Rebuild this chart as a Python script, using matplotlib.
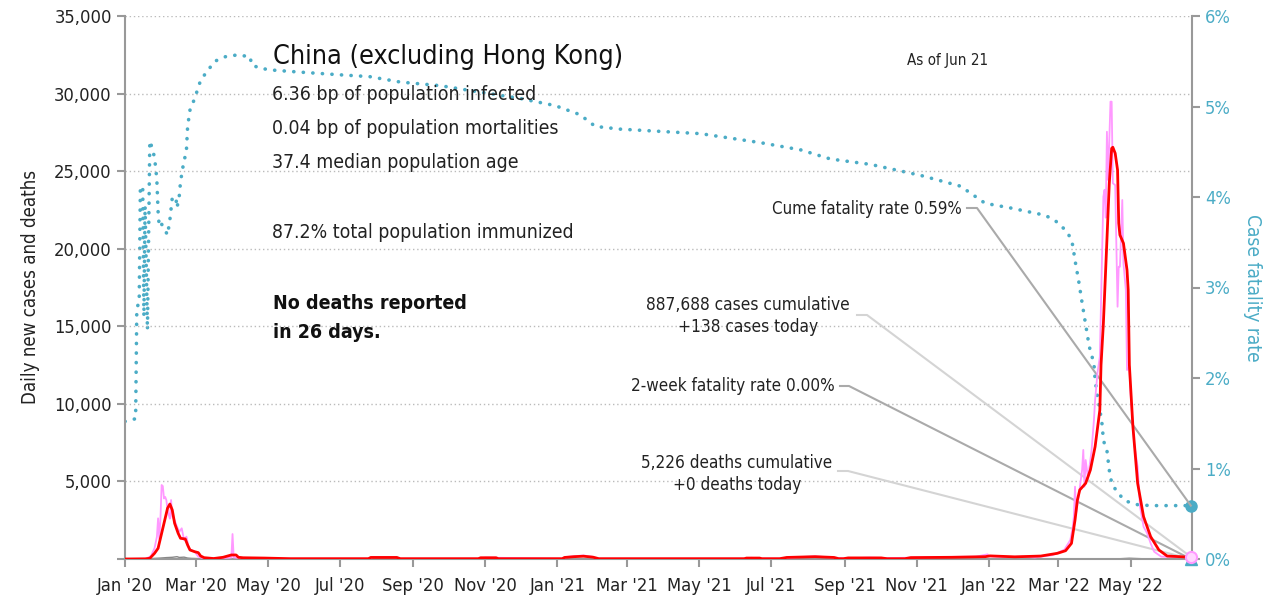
import datetime as dt
import matplotlib
matplotlib.use("Agg")
import matplotlib.pyplot as plt
import matplotlib.dates as mdates
from matplotlib import font_manager as fm
from matplotlib.ticker import FuncFormatter, MultipleLocator

# ---------------- data ----------------
START = dt.date(2020, 1, 1)

# daily new cases (pink), day offsets from 2020-01-01
cases_day = [0, 18, 22, 25, 27, 28, 29, 30, 31, 32, 33, 34, 35, 36, 37, 38, 39, 40, 42, 44,
             46, 48, 50, 52, 54, 56, 59, 62, 65, 70, 80, 88, 90, 91, 92, 95, 100, 110, 140,
             206, 210, 230, 233, 300, 305, 314, 370, 375, 382, 388, 395, 401, 525, 530, 538,
             556, 570, 584, 600, 610, 630, 645, 662, 690, 720, 730, 731, 745, 760,
             770, 785, 795, 800, 802, 803, 804, 805, 807, 810, 811, 812, 813, 815, 818, 820,
             821, 823, 825, 827, 828, 829, 830, 831, 832, 834, 835, 836, 838, 840, 841, 842,
             844, 845, 847, 848, 850, 851, 854, 857, 859, 862, 865, 868, 871, 877, 890, 902]
cases_val = [0, 20, 200, 700, 1440, 2620, 1300, 2600, 4770, 4700, 3900, 4000, 3800, 3160, 2840,
             2600, 3800, 2730, 2500, 2080, 1760, 1980, 1225, 1440, 690, 580, 470, 150, 80, 30,
             60, 80, 100, 1610, 100, 80, 50, 40, 20,
             20, 120, 110, 20, 20, 90, 80, 20, 140, 190, 230, 150, 20, 20, 80, 30,
             30, 120, 170, 90, 40, 90, 60, 80, 130, 150, 300, 180, 120, 150,
             100, 250, 600, 1225, 2000, 2730, 4660, 3000, 4000, 5740, 7030, 4660, 6380, 5200,
             7000, 8960, 10250, 12000, 13040, 20000, 23355, 23800, 22000, 27540, 24430, 29480,
             29480, 24220, 24100, 16260, 18840, 18840, 23140, 19060, 17340, 12180, 12400, 10680,
             7460, 5950, 3370, 2080, 1660, 1010, 470, 150, 120, 138]

# 7-day average of cases (red)
avg_day = [0, 17, 21, 25, 28, 30, 33, 36, 38, 40, 42, 45, 47, 51, 53, 55, 59, 62, 64, 67, 75,
           83, 90, 94, 96, 100, 118, 140, 206, 208, 230, 233, 299, 301, 314, 316, 370, 372,
           380, 388, 396, 401, 524, 526, 537, 539, 554, 560, 584, 600, 604, 608, 612, 640, 645,
           660, 665, 700, 728, 732, 753, 775, 789, 796, 801, 804, 806, 808, 813, 817, 821,
           825, 826, 828, 831, 833, 835, 836, 838, 840, 841, 842, 845, 848, 849, 850.5, 853,
           857, 862, 868, 875, 882, 893, 902]
avg_val = [0, 10, 45, 367, 690, 1335, 2300, 3270, 3545, 3160, 2300, 1655, 1335, 1290, 900, 580,
           470, 410, 195, 85, 30, 110, 260, 260, 110, 80, 60, 20, 20, 100, 100, 20, 20, 80, 80,
           20, 20, 100, 150, 180, 120, 20, 20, 60, 60, 20, 20, 100, 150, 100, 20, 20, 70, 70,
           20, 20, 90, 110, 150, 200, 140, 190, 365, 535, 1010, 2515, 3800, 4450, 4880, 5740,
           7240, 9600, 12500, 15190, 20560, 24220, 26470, 26540, 26150, 25075, 21640, 20885,
           20350, 18630, 17340, 12500, 8530, 4880, 2730, 1440, 580, 190, 150, 110]

# daily deaths (gray)
deaths_day = [0, 20, 25, 30, 35, 40, 44, 46, 50, 53, 56, 60, 65, 75, 110, 835, 840, 850, 860,
              870, 902]
deaths_val = [0, 10, 40, 60, 90, 110, 150, 100, 120, 60, 40, 30, 20, 5, 0, 0, 10, 50, 20, 0, 0]

# cumulative case fatality rate, percent (teal dotted)
cfr_day = [0, 9, 10, 12, 13, 15, 16, 17.5, 19, 21, 24, 26, 27, 28, 29, 31, 34, 36, 38, 40, 43,
           44, 46, 47, 49, 52, 53, 55, 59, 64, 69, 76, 85, 95, 106, 107, 115, 127, 148, 182,
           207, 233, 267, 300, 334, 364, 385, 398, 419, 487, 538, 572, 597, 631, 673, 707,
           728, 749, 778, 783, 788, 793, 797, 800, 802, 804, 807, 810, 813, 816.5, 820, 821,
           823, 825, 827, 828, 831, 833, 835, 840, 847, 857, 868, 902]
cfr_val = [1.52, 1.55, 2.78, 2.83, 4.12, 4.10, 2.68, 3.90, 2.53, 4.62, 4.50, 4.33, 4.17, 3.84,
           3.67, 3.70, 3.63, 3.58, 3.75, 3.99, 4.00, 3.88, 4.02, 4.17, 4.33, 4.52, 4.78, 4.96,
           5.09, 5.29, 5.38, 5.50, 5.55, 5.57, 5.55, 5.46, 5.42, 5.40, 5.38, 5.35, 5.33, 5.27,
           5.23, 5.16, 5.09, 5.01, 4.91, 4.78, 4.75, 4.70, 4.60, 4.52, 4.42, 4.36, 4.24, 4.12,
           3.93, 3.88, 3.80, 3.77, 3.73, 3.67, 3.62, 3.55, 3.47, 3.30, 3.08, 2.83, 2.59, 2.35,
           2.16, 1.98, 1.79, 1.65, 1.48, 1.31, 1.20, 0.98, 0.84, 0.73, 0.64, 0.60, 0.59, 0.59]

last_date = dt.date(2022, 6, 21)
cases_today = 138
cume_cfr = 0.59
two_week_cfr = 0.00

title = "China (excluding Hong Kong)"
stats = ["6.36 bp of population infected", "0.04 bp of population mortalities",
         "37.4 median population age", "87.2% total population immunized"]
note = "No deaths reported\nin 26 days."
asof = "As of Jun 21"
lbl_cume = "Cume fatality rate 0.59%"
lbl_cases = "887,688 cases cumulative\n+138 cases today"
lbl_2wk = "2-week fatality rate 0.00%"
lbl_deaths = "5,226 deaths cumulative\n+0 deaths today"

# ---------------- fonts ----------------
names = {f.name for f in fm.fontManager.ttflist}
stretch = "normal"
if "Liberation Sans Narrow" in names:
    FONT = "Liberation Sans Narrow"
    scale = 1.0
elif any(f.name == "DejaVu Sans" and f.stretch == "condensed" for f in fm.fontManager.ttflist):
    FONT = "DejaVu Sans"
    stretch = "condensed"
    scale = 0.85
else:
    FONT = "Roboto"
    scale = 0.85
plt.rcParams["font.family"] = [FONT, "DejaVu Sans"]
plt.rcParams["font.stretch"] = stretch


def fs(v):
    return v * scale


TEAL = "#4bacc6"
PINK = "#ff99ff"
RED = "#ff0000"
GRAY = "#999999"
TXT = "#222222"


def to_dates(days):
    return [START + dt.timedelta(days=float(d)) for d in days]


fig = plt.figure(figsize=(12.71, 6.02), dpi=100)
ax = fig.add_axes([125 / 1271, 1 - 559 / 602, 1067 / 1271, 543 / 602])
ax2 = ax.twinx()

ax.plot(to_dates(deaths_day), deaths_val, color="#888888", lw=1.0, zorder=2)
ax.plot(to_dates(cases_day), cases_val, color=PINK, lw=1.3, zorder=3)
ax.plot(to_dates(avg_day), avg_val, color=RED, lw=2.0, zorder=4)
ax2.plot(to_dates(cfr_day), cfr_val, color=TEAL, lw=2.6, linestyle=(0, (0.05, 2.6)),
         dash_capstyle="round", zorder=5)

# end markers
ax.plot([last_date], [cases_today], "o", ms=8, mfc="#ffd6ff", mec=PINK, mew=1.5,
        clip_on=False, zorder=6)
ax2.plot([last_date], [cume_cfr], "o", ms=8, color=TEAL, clip_on=False, zorder=7)
ax2.plot([last_date], [two_week_cfr], "^", ms=9, color=TEAL, clip_on=False, zorder=7)

ax.set_xlim(dt.date(2020, 1, 1), dt.date(2022, 6, 22))
ax.set_ylim(0, 35000)
ax2.set_ylim(0, 6)
ax.set_zorder(ax2.get_zorder() + 1)
ax.patch.set_visible(False)

# axes styling
for a in (ax, ax2):
    for s in a.spines.values():
        s.set_color(GRAY)
        s.set_linewidth(1.5)
    a.spines["top"].set_visible(False)
ax.spines["right"].set_visible(False)
ax2.spines["left"].set_visible(False)
ax2.spines["bottom"].set_visible(False)

ax.yaxis.set_major_locator(MultipleLocator(5000))
ax.yaxis.set_major_formatter(FuncFormatter(lambda v, p: "" if v == 0 else f"{int(v):,}"))
ax.grid(axis="y", color="#bbbbbb", linestyle=(0, (1, 2)), lw=1.0)
ax.set_axisbelow(True)
ax.xaxis.set_major_locator(mdates.MonthLocator(bymonth=[1, 3, 5, 7, 9, 11]))
ax.xaxis.set_major_formatter(mdates.DateFormatter("%b '%y"))
ax.tick_params(axis="both", colors=GRAY, labelcolor=TXT, labelsize=fs(15.5), length=6, width=1.5)
ax.tick_params(axis="x", pad=7)
ax2.yaxis.set_major_locator(MultipleLocator(1))
ax2.yaxis.set_major_formatter(FuncFormatter(lambda v, p: f"{int(round(v))}%"))
ax2.tick_params(axis="y", colors=GRAY, labelcolor=TEAL, labelsize=fs(15.5), length=6, width=1.5)

ax.set_ylabel("Daily new cases and deaths", fontsize=fs(15.8), color=TXT, labelpad=10)
ax2.set_ylabel("Case fatality rate", fontsize=fs(16.2), color=TEAL, rotation=270, labelpad=22)


def fx(px):
    return (px - 125) / 1067


def fy(py):
    return (559 - py) / 543


T = ax.transAxes
ax.text(fx(273), fy(57), title, transform=T, fontsize=fs(22.8), color="#111111", va="center", ha="left")
for s, py in zip(stats, [95, 129, 162, 232]):
    ax.text(fx(272), fy(py), s, transform=T, fontsize=fs(16.4), color=TXT, va="center", ha="left")
ax.text(fx(273), fy(318), note, transform=T, fontsize=fs(16.5), fontweight="bold", color="#111111",
        va="center", ha="left", linespacing=1.65)
ax.text(fx(907), fy(61), asof, transform=T, fontsize=fs(12.8), color=TXT, va="center", ha="left")

ax.text(fx(962), fy(209), lbl_cume, transform=T, fontsize=fs(14.2), color=TXT, va="center", ha="right")
ax.text(fx(748), fy(316), lbl_cases, transform=T, fontsize=fs(14.6), color=TXT, va="center",
        ha="center", multialignment="center", linespacing=1.35)
ax.text(fx(835), fy(386), lbl_2wk, transform=T, fontsize=fs(14.4), color=TXT, va="center", ha="right")
ax.text(fx(737), fy(474), lbl_deaths, transform=T, fontsize=fs(14.4), color=TXT, va="center",
        ha="center", multialignment="center", linespacing=1.35)

# leader lines
xend = (mdates.date2num(last_date) - mdates.date2num(dt.date(2020, 1, 1))) / \
       (mdates.date2num(dt.date(2022, 6, 22)) - mdates.date2num(dt.date(2020, 1, 1)))
leaders = [
    (967, 977, 208, cume_cfr / 6, "#aaaaaa"),
    (857, 867, 315, cases_today / 35000, "#d4d4d4"),
    (840, 849, 386, two_week_cfr / 6, "#aaaaaa"),
    (838, 848, 471, 0.0, "#d4d4d4"),
]
for x0, x1, py, yend, c in leaders:
    ax.plot([fx(x0), fx(x1), xend], [fy(py), fy(py), yend], transform=T, color=c, lw=1.5,
            clip_on=False, zorder=1)

fig.savefig("out.png", dpi=100)
